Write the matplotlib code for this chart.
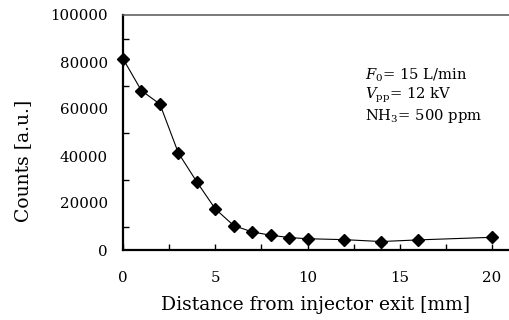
import matplotlib

matplotlib.use("Agg")
import matplotlib.pyplot as plt
from matplotlib.ticker import MultipleLocator

distance_mm = [0, 1, 2, 3, 4, 5, 6, 7, 8, 9, 10, 12, 14, 16, 20]
counts = [81400, 67800, 62100, 41300, 29000, 17500, 10400, 7700,
          6300, 5300, 4800, 4400, 3600, 4300, 5400]
conditions = [r"$F_0$= 15 L/min", r"$V_{\rm pp}$= 12 kV", r"NH$_3$= 500 ppm"]

plt.rcParams["font.family"] = "DejaVu Serif"
plt.rcParams["mathtext.fontset"] = "dejavuserif"

fig = plt.figure(figsize=(5.09, 3.2), dpi=100)
ax = fig.add_axes([123 / 509, 70 / 320, 1 - 123 / 509, 235 / 320])

ax.plot(distance_mm, counts, color="black", lw=0.8, marker="D", ms=6.2,
        mfc="black", mec="black", clip_on=False, zorder=3)

ax.set_xlim(0, 386 / 18.45)
ax.set_ylim(0, 100000)
ax.xaxis.set_major_locator(MultipleLocator(5))
ax.xaxis.set_minor_locator(MultipleLocator(2.5))
ax.yaxis.set_major_locator(MultipleLocator(20000))
ax.yaxis.set_minor_locator(MultipleLocator(10000))
ax.tick_params(axis="x", which="both", direction="in", length=4, width=1,
               labelsize=10.8, pad=15)
ax.tick_params(axis="y", which="major", length=0, labelsize=10.8, pad=11)
ax.tick_params(axis="y", which="minor", direction="in", length=4, width=1)

for side in ("left", "bottom"):
    ax.spines[side].set_linewidth(1.6)
ax.spines["top"].set_linewidth(1.1)
ax.spines["top"].set_color("#555555")
ax.spines["right"].set_visible(False)

ax.set_xlabel("Distance from injector exit [mm]", fontsize=13.5, labelpad=8)
ax.set_ylabel("Counts [a.u.]", fontsize=13.5)
ax.yaxis.set_label_coords(-0.235, 0.38)

for i, line in enumerate(conditions):
    ax.text(0.628, 0.745 - i * 0.088, line, transform=ax.transAxes,
            fontsize=10.6, va="center", ha="left")

fig.savefig("out.png", dpi=100)
